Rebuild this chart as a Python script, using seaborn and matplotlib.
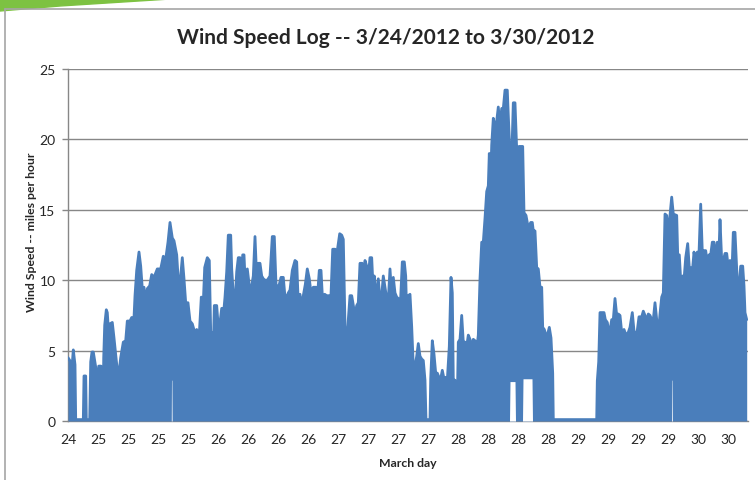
import numpy as np
import pandas as pd
import seaborn as sns
import matplotlib.pyplot as plt
from matplotlib.patches import Polygon
from matplotlib.lines import Line2D

# ---- data: hours since start of log, upper envelope of wind speed (mph) ----
hours = [0.00,0.54,0.86,1.06,1.40,1.54,3.06,3.20,3.54,3.66,4.34,4.54,4.80,5.06,5.34,5.60,5.74,5.94,6.14,6.60,
         6.74,7.00,7.14,7.34,7.66,7.86,8.06,8.40,8.86,9.20,9.66,10.06,10.54,11.06,11.54,11.86,12.40,12.74,13.20,13.40,
         13.74,14.20,14.54,14.86,15.20,15.54,15.86,16.34,16.74,17.20,17.86,18.54,19.06,19.54,20.00,20.40,20.86,21.20,21.74,22.14,
         22.54,22.86,23.20,23.54,24.00,24.40,24.86,25.34,25.74,26.20,26.66,27.00,27.34,27.86,28.26,28.54,
         28.74,29.06,29.26,29.74,30.06,30.40,30.74,31.20,31.40,31.74,32.06,32.54,32.74,33.06,33.40,33.74,34.06,34.40,34.60,34.94,
         35.20,35.40,35.86,36.26,36.74,37.06,37.40,37.74,38.06,38.40,38.74,39.06,39.40,39.86,40.40,40.86,41.26,41.60,41.94,42.26,
         42.60,43.06,43.40,43.74,44.06,44.40,44.86,45.40,45.74,46.06,46.40,46.74,47.06,47.46,47.86,48.26,48.60,49.06,49.60,49.86,
         50.26,50.60,50.94,51.34,51.74,52.20,52.54,52.94,53.40,53.86,54.34,54.74,55.06,55.40,55.74,56.06,56.40,56.74,57.06,57.40,
         57.74,58.06,
         58.40,58.86,59.06,59.40,59.74,60.06,60.40,60.74,61.06,61.26,61.74,62.06,62.40,62.74,63.06,63.40,63.74,64.06,64.40,64.74,
         65.06,65.40,65.74,66.06,66.40,66.86,67.26,67.54,67.74,68.06,68.40,68.74,69.06,69.40,69.74,70.06,70.40,70.74,71.06,71.40,
         71.60,72.40,72.54,72.86,73.20,73.54,73.86,74.20,74.54,74.86,75.20,75.54,75.86,76.26,76.60,76.86,77.06,77.40,77.60,77.80,
         78.06,78.40,78.74,79.06,79.40,79.74,80.06,80.40,80.74,81.06,81.40,81.74,82.06,82.40,82.74,83.06,83.40,83.74,84.06,84.26,
         84.54,84.74,85.06,85.40,85.74,86.06,86.40,86.74,
         87.06,87.40,87.86,88.06,88.40,88.74,89.06,89.40,89.60,89.86,90.20,90.94,91.20,91.60,92.06,92.54,92.86,93.06,93.40,93.74,
         94.06,94.40,94.74,94.94,95.26,95.74,96.26,96.60,96.94,97.06,105.74,105.86,106.14,106.40,107.20,107.46,107.86,108.26,108.74,109.06,
         109.40,109.74,110.06,
         110.40,110.74,111.20,111.60,112.06,112.40,112.86,113.20,113.74,114.20,114.74,115.06,115.40,115.74,116.06,116.40,116.74,117.06,117.40,117.74,
         118.06,118.40,118.74,119.06,119.40,119.74,120.06,120.40,120.74,121.06,121.74,121.94,122.26,122.60,122.94,123.26,123.54,123.94,124.26,124.94,
         125.20,125.54,125.86,126.20,126.54,126.86,127.20,127.54,127.86,128.20,128.54,128.86,129.20,129.54,129.86,130.20,130.40,130.74,131.06,131.40,
         131.74,132.06,132.40,132.74,133.06,133.40,133.74,133.94,134.20,134.54,134.94,135.20,135.40,135.74]

wind_mph = [4.5,4.2,4.1,5.05,4.0,0.1,0.1,3.2,3.2,0.1,0.1,4.2,4.9,4.9,4.3,3.7,0.1,0.1,3.9,3.9,
            0.1,0.1,4.5,6.8,7.9,7.7,6.6,6.9,7.0,5.9,4.3,3.0,4.5,5.6,5.7,7.1,7.1,7.35,7.35,8.9,
            10.7,12.0,11.0,9.4,9.5,8.4,9.4,9.6,10.4,10.2,10.8,10.8,11.7,11.5,12.7,14.1,13.0,12.8,11.8,9.5,
            10.3,11.6,10.1,8.4,8.4,7.1,6.9,6.3,6.5,5.8,8.8,7.9,10.9,11.6,11.4,6.3,
            6.3,5.0,8.2,8.2,6.65,7.0,8.0,8.0,8.8,10.6,13.2,13.2,10.8,9.0,8.3,10.6,11.6,11.6,9.6,11.8,
            11.8,10.2,10.8,9.6,9.6,10.3,13.1,10.1,11.2,11.2,10.3,10.1,10.0,10.0,10.3,13.1,13.1,9.7,9.5,9.7,
            10.2,10.2,8.8,8.8,9.1,9.3,10.7,11.4,11.3,8.3,9.0,8.1,8.9,9.7,10.8,10.1,9.1,9.5,9.5,8.7,
            10.7,10.7,8.4,9.0,8.9,8.9,8.4,12.2,12.2,12.1,13.3,13.2,12.9,6.8,5.2,7.2,8.9,8.9,8.2,7.5,
            8.2,8.4,
            11.2,11.2,9.1,11.4,11.0,10.3,11.6,11.6,9.1,10.3,8.6,10.1,8.6,8.9,10.3,9.5,8.7,8.6,10.8,8.9,
            10.2,9.1,8.8,8.7,7.7,11.3,11.3,10.3,7.5,8.9,9.0,6.7,3.9,3.9,4.6,5.5,4.6,4.4,4.3,2.9,
            0.1,0.1,3.0,5.7,4.75,3.4,3.4,3.1,3.0,3.6,3.0,3.1,2.9,5.3,10.2,9.1,2.9,2.9,0.1,0.1,
            5.6,5.8,7.5,5.6,5.6,5.3,6.1,5.8,5.2,5.8,5.7,5.1,6.1,10.1,12.7,12.7,14.4,16.3,16.7,19.0,
            17.2,19.6,21.5,20.9,21.3,22.3,20.9,22.2,
            22.2,23.5,23.5,21.7,18.9,18.6,22.6,22.6,20.7,18.1,19.5,19.5,14.8,14.6,13.7,14.1,14.1,13.5,13.5,10.9,
            10.8,9.5,9.5,6.65,6.5,5.9,6.65,5.9,3.4,0.1,0.1,2.85,4.2,7.7,7.7,7.2,7.0,6.1,7.2,7.2,
            8.7,7.5,7.6,
            7.5,6.3,6.5,6.1,6.3,6.65,7.7,6.4,6.1,7.4,7.4,7.8,7.5,7.1,7.6,7.5,7.2,7.2,8.4,7.2,
            6.2,7.6,8.8,9.1,14.7,14.6,13.3,14.6,15.9,14.7,14.6,11.8,11.8,9.6,10.3,10.3,11.6,12.6,10.9,10.9,
            12.0,11.2,12.0,11.9,15.4,12.0,12.1,12.1,11.2,11.8,11.8,12.7,12.7,11.5,12.7,12.0,14.3,11.4,11.4,11.9,
            11.9,10.9,11.4,10.0,13.4,13.4,10.8,8.8,9.6,11.0,11.0,9.6,7.7,7.2]

# lower envelope where the speed never dropped to zero (short spans)
floor_hours = [20.66, 20.70, 20.78, 20.82, 88.30, 88.40, 89.40, 89.50,
               90.90, 91.00, 92.80, 92.90, 120.74, 120.78, 120.86, 120.90]
floor_mph = [0, 2.9, 2.9, 0, 0, 2.8, 2.8, 0, 0, 3.0, 3.0, 0, 0, 2.9, 2.9, 0]

day_labels = ["24", "25", "25", "25", "25", "26", "26", "26", "26", "27", "27", "27",
              "27", "28", "28", "28", "28", "29", "29", "29", "29", "30", "30"]

assert len(hours) == len(wind_mph), (len(hours), len(wind_mph))

BLUE = "#4A7EBB"
GRID = "#878787"

sns.set_theme(style="white")
plt.rcParams["font.family"] = ["Lato", "DejaVu Sans"]

fig = plt.figure(figsize=(7.55, 4.81), dpi=100)
ax = fig.add_axes([68 / 755, 59 / 481, 680 / 755, 352 / 481])

df = pd.DataFrame({"hours": hours, "mph": wind_mph})
ax.fill_between(df["hours"], 0, df["mph"], color=BLUE, lw=0, zorder=2)
sns.lineplot(data=df, x="hours", y="mph", ax=ax, color=BLUE, lw=2.0,
             estimator=None, sort=False, zorder=3)
ax.fill_between(floor_hours, 0, floor_mph, color="white", lw=0, zorder=4)

ax.set_xlim(0, 136)
ax.set_ylim(0, 25)
ax.set_yticks(range(0, 26, 5))
ax.set_xticks(np.arange(len(day_labels)) * 6)
ax.set_xticklabels(day_labels)
ax.yaxis.grid(True, color=GRID, lw=1)
ax.xaxis.grid(False)
ax.set_axisbelow(True)
for s in ["top", "right"]:
    ax.spines[s].set_visible(False)
for s in ["left", "bottom"]:
    ax.spines[s].set_color(GRID)
    ax.spines[s].set_linewidth(1)
    ax.spines[s].set_zorder(1)
ax.tick_params(axis="y", left=True, length=4, width=1, color=GRID, pad=5, labelsize=10)
ax.tick_params(axis="x", bottom=False, length=0, pad=9, labelsize=10)

ax.set_xlabel("March day", fontsize=8.8, fontweight="bold", labelpad=8)
ax.set_ylabel("Wind Speed -- miles per hour", fontsize=8.8, fontweight="bold")
ax.yaxis.set_label_coords(-0.046, 0.54)

fig.text(386 / 755, 1 - 38 / 481, "Wind Speed Log -- 3/24/2012 to 3/30/2012",
         ha="center", va="center", fontsize=15, fontweight="bold")

# slide frame decorations
fig.add_artist(Line2D([5 / 755, 1], [1 - 10 / 481] * 2, color="#A6A6A6", lw=1.2,
                      transform=fig.transFigure))
fig.add_artist(Line2D([5 / 755, 5 / 755], [0, 1 - 10 / 481], color="#A6A6A6", lw=1.2,
                      transform=fig.transFigure))
fig.add_artist(Polygon([(0, 1), (170 / 755, 1), (60 / 755, 1 - 7 / 481), (0, 1 - 12 / 481)],
                       closed=True, color="#7DC242", transform=fig.transFigure))

fig.savefig("out.png", dpi=100)
